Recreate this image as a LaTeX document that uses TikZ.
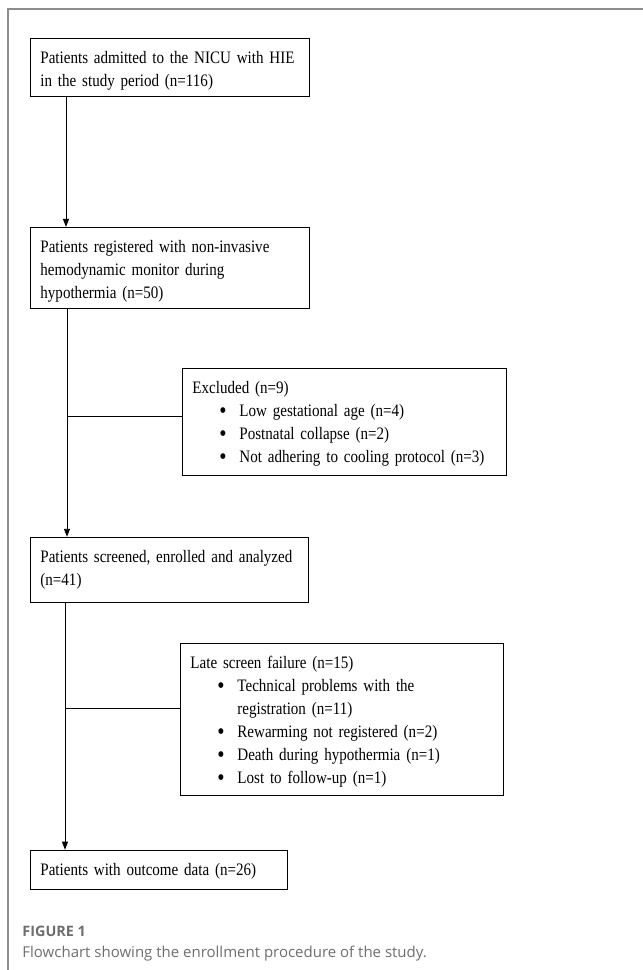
\documentclass[tikz,border=0pt]{standalone}
\usepackage{fontspec}
\setmainfont{Liberation Serif}[FakeStretch=0.86]
\newfontfamily\capfont{Open Sans}
\usetikzlibrary{positioning, arrows.meta}
\usepackage{xcolor}
\definecolor{framegray}{HTML}{8C8C8C}
\definecolor{capgray}{HTML}{6E6E6E}
\newcommand{\bul}{\hspace*{27pt}\makebox[20pt][l]{\raisebox{-2pt}{\fontsize{24}{23}\selectfont\textbullet}}}

\begin{document}
\begin{tikzpicture}[x=1pt, y=-1pt, line width=0.9pt,
        flowbox/.style={draw, align=left, anchor=north west, inner xsep=10pt, inner ysep=6pt,
            text height=19pt, font=\fontsize{17.5}{23}\selectfont},
        arr/.style={-{Triangle[width=6pt, length=8pt]}}]
        \useasboundingbox (0,0) rectangle (643,970);
        \draw[framegray, line width=1.2pt] (643,9) -- (8,9) -- (8,970);
        \node[flowbox, text width=259pt, text depth=27pt] (adm) at (30,38) {Patients admitted to the NICU with HIE\\in the study period (n=116)};
        \node[flowbox, text width=259pt, text depth=50pt, below right=130pt and 0pt of adm.south west] (reg) {Patients registered with non-invasive\\hemodynamic monitor during\\hypothermia (n=50)};
        \node[flowbox, text width=304pt, text depth=76pt, below right=59pt and 152pt of reg.south west] (exc) {Excluded (n=9)\\
            \bul Low gestational age (n=4)\\
            \bul Postnatal collapse (n=2)\\
            \bul Not adhering to cooling protocol (n=3)};
        \node[flowbox, text width=258pt, text depth=34pt, below right=228pt and 0pt of reg.south west] (scr) {Patients screened, enrolled and analyzed\\(n=41)};
        \node[flowbox, text width=303pt, text depth=121pt, below right=40pt and 150pt of scr.south west] (late) {Late screen failure (n=15)\\
            \bul Technical problems with the\\
            \hspace*{47pt}registration (n=11)\\
            \bul Rewarming not registered (n=2)\\
            \bul Death during hypothermia (n=1)\\
            \bul Lost to follow-up (n=1)};
        \node[flowbox, text width=237pt, text depth=8pt, below right=247pt and 0pt of scr.south west] (out) {Patients with outcome data (n=26)};
        \coordinate (t1) at ([xshift=36pt]adm.south west);
        \draw[arr] (t1) -- (t1 |- reg.north);
        \coordinate (t2) at ([xshift=37pt]reg.south west);
        \draw[arr] (t2) -- (t2 |- scr.north);
        \coordinate (e1) at ([yshift=5pt]exc.west);
        \draw (e1) -- (e1 -| t2);
        \coordinate (t3) at ([xshift=35pt]scr.south west);
        \draw[arr] (t3) -- (t3 |- out.north);
        \coordinate (e2) at ([yshift=11pt]late.west);
        \draw (e2) -- (e2 -| t3);
        \node[anchor=base west, inner sep=0pt, text=capgray, font=\capfont\bfseries\fontsize{14.4}{17}\selectfont] (fig) at (22,936) {FIGURE 1};
        \node[anchor=base west, inner sep=0pt, text=capgray, font=\capfont\fontsize{15}{18}\selectfont] (cap) at (22,957) {Flowchart showing the enrollment procedure of the study.};
    \end{tikzpicture}
\end{document}
